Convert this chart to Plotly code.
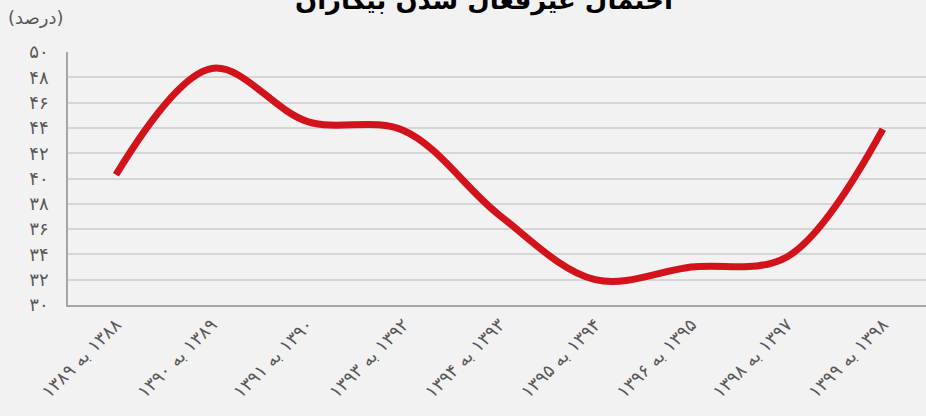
import plotly.graph_objects as go

RLM = "\u200f"
categories = ["۱۳۸۸ به ۱۳۸۹", "۱۳۸۹ به ۱۳۹۰", "۱۳۹۰ به ۱۳۹۱", "۱۳۹۲ به ۱۳۹۳",
              "۱۳۹۳ به ۱۳۹۴", "۱۳۹۴ به ۱۳۹۵", "۱۳۹۵ به ۱۳۹۶", "۱۳۹۷ به ۱۳۹۸",
              "۱۳۹۸ به ۱۳۹۹"]
values = [40.3, 48.7, 44.5, 43.8, 37.1, 32.0, 33.0, 33.8, 43.9]
ytick_vals = [30, 32, 34, 36, 38, 40, 42, 44, 46, 48, 50]
ytick_text = ["۳۰", "۳۲", "۳۴", "۳۶", "۳۸", "۴۰", "۴۲", "۴۴", "۴۶", "۴۸", "۵۰"]
title_text = "احتمال غیرفعال شدن بیکاران"
unit_text = "(درصد)"

xs = list(range(len(categories)))
fig = go.Figure(go.Scatter(
    x=xs, y=values, mode="lines",
    line=dict(color="#d3131b", width=7, shape="spline", smoothing=1.0),
    hoverinfo="skip"))

font_fa = "DejaVu Sans"
fig.update_layout(
    width=926, height=416,
    paper_bgcolor="#f2f2f2", plot_bgcolor="#f2f2f2",
    margin=dict(l=68, r=0, t=52, b=111, autoexpand=False),
    showlegend=False,
    xaxis=dict(
        tickmode="array", tickvals=xs, ticktext=[RLM + c for c in categories],
        range=[-0.5, 8.45], tickangle=-45, showgrid=False, automargin=False,
        showline=True, linecolor="#a6a6a6", linewidth=2,
        ticks="", tickfont=dict(family=font_fa, size=18, color="#595959"),
        zeroline=False, fixedrange=True),
    yaxis=dict(
        tickmode="array", tickvals=ytick_vals, ticktext=ytick_text,
        range=[30, 50], showgrid=True, gridcolor="#d6d6d6", gridwidth=1.5,
        showline=True, linecolor="#a6a6a6", linewidth=1.5, automargin=False,
        ticks="", ticklabelstandoff=14,
        tickfont=dict(family=font_fa, size=18, color="#595959"),
        zeroline=False, fixedrange=True),
    annotations=[
        dict(text="<b>" + title_text + "</b>", xref="paper", yref="paper",
             x=0.485, y=1.0, yshift=34, xanchor="center", yanchor="bottom",
             showarrow=False,
             font=dict(family=font_fa, size=26, color="#000000")),
        dict(text=unit_text, xref="paper", yref="paper", x=0, y=1.0,
             xshift=-2, yshift=22, xanchor="right", yanchor="bottom",
             showarrow=False,
             font=dict(family=font_fa, size=18, color="#595959")),
    ],
)
fig.write_html(
    "out.html",
    config={"displayModeBar": False},
    post_script="document.body.style.margin='0';"
                "document.body.style.overflow='hidden';"
                "document.documentElement.style.overflow='hidden';",
)
